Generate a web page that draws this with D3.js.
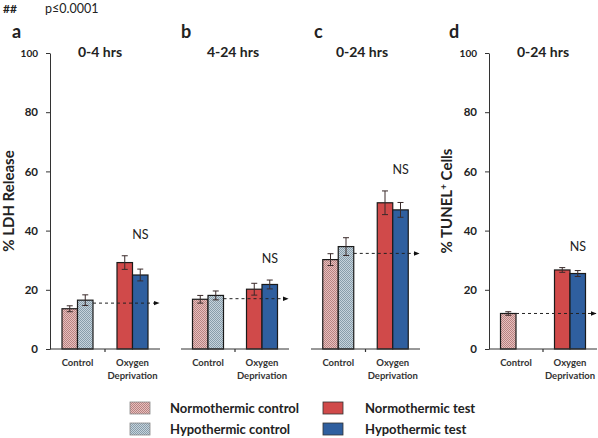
<!DOCTYPE html>
<html><head><meta charset="utf-8">
<script src="https://cdn.jsdelivr.net/npm/d3@7"></script>
<style>
html,body{margin:0;padding:0;background:#fff;}
text{font-family:Lato,"Open Sans",sans-serif;fill:#222;}
</style></head>
<body>
<svg id="chart" width="598" height="438"></svg>
<script>
// ---- data ----
const panelLetters = ["a", "b", "c", "d"];
const panelTitles = ["0-4 hrs", "4-24 hrs", "0-24 hrs", "0-24 hrs"];
const categories = ["Control", "Oxygen Deprivation"];
const yTicks = [0, 20, 40, 60, 80, 100];
const normControl = [13.6, 16.8, 30.2, 12.0];
const hypoControl = [16.5, 18.1, 34.6, null];
const normTest = [29.2, 20.2, 49.4, 26.7];
const hypoTest = [25.0, 21.8, 47.0, 25.5];
const normControlErr = [1.0, 1.3, 2.0, 0.6];
const hypoControlErr = [1.8, 1.5, 3.0, null];
const normTestErr = [2.3, 2.0, 4.0, 0.8];
const hypoTestErr = [2.0, 1.5, 2.5, 1.0];
const dashRef = [15.5, 17.0, 32.3, 12.0];
const sigLabel = ["NS", "NS", "NS", "NS"];
const yLabels = ["% LDH Release", null, null, "% TUNEL"];
const legendNames = ["Normothermic control", "Hypothermic control", "Normothermic test", "Hypothermic test"];

// ---- drawing ----
const svg = d3.select("#chart");
const defs = svg.append("defs");
function hatch(id, bg, fg) {
  const p = defs.append("pattern").attr("id", id).attr("patternUnits", "userSpaceOnUse")
    .attr("width", 2).attr("height", 2);
  p.append("rect").attr("width", 2).attr("height", 2).attr("fill", bg);
  p.append("rect").attr("x", 0).attr("y", 0).attr("width", 1).attr("height", 1).attr("fill", fg);
  p.append("rect").attr("x", 1).attr("y", 1).attr("width", 1).attr("height", 1).attr("fill", fg);
}
hatch("pinkHatch", "#e6c0bf", "#b98280");
hatch("blueHatch", "#c6d3dc", "#889daa");
defs.append("marker").attr("id", "arrow").attr("viewBox", "0 0 10 10").attr("refX", 9).attr("refY", 5)
  .attr("markerWidth", 6).attr("markerHeight", 6).attr("orient", "auto")
  .append("path").attr("d", "M0,1 L10,5 L0,9 Z").attr("fill", "#111");

const fills = ["url(#pinkHatch)", "url(#blueHatch)", "#d04a4a", "#2f5f9f"];
const series = [
  {vals: normControl, errs: normControlErr, fill: fills[0], cat: 0, sub: 0},
  {vals: hypoControl, errs: hypoControlErr, fill: fills[1], cat: 0, sub: 1},
  {vals: normTest, errs: normTestErr, fill: fills[2], cat: 1, sub: 0},
  {vals: hypoTest, errs: hypoTestErr, fill: fills[3], cat: 1, sub: 1}
];

const panelRanges = [[50, 160], [181, 289], [311, 420], [489, 597]];
const y = d3.scaleLinear().domain([0, 100]).range([349, 53]);

svg.append("text").attr("x", 3).attr("y", 13).style("font-size", "12px").style("font-weight", "bold").text("##");
svg.append("text").attr("x", 45).attr("y", 13).style("font-size", "12.5px").text("p≤0.0001");

const letterX = [12, 181, 314, 449];
const titleX = [100, 233, 362, 543];

panelLetters.forEach((L, i) => {
  const g = svg.append("g");
  const xr = panelRanges[i];
  const x0 = d3.scaleBand().domain(categories).range(xr).paddingInner(0).paddingOuter(0);
  const x1 = d3.scaleBand().domain([0, 1]).range([x0.bandwidth() / 2 - 15.5, x0.bandwidth() / 2 + 15.5]);

  g.append("text").attr("x", letterX[i]).attr("y", 38).style("font-size", "18px").style("font-weight", "bold").text(L);
  g.append("text").attr("x", titleX[i]).attr("y", 57).attr("text-anchor", "middle")
    .style("font-size", "14px").style("font-weight", "bold").text(panelTitles[i]);

  // bars
  series.forEach(s => {
    const v = s.vals[i];
    if (v == null) return;
    const bx = x0(categories[s.cat]) + x1(s.sub);
    const bw = x1.bandwidth();
    g.append("rect").attr("x", bx).attr("y", y(v)).attr("width", bw).attr("height", y(0) - y(v))
      .attr("fill", s.fill).attr("stroke", "#1a1a1a").attr("stroke-width", 1.2);
    const e = s.errs[i];
    const cx = bx + bw / 2;
    const eg = g.append("g").attr("stroke", "#3a2a2a").attr("stroke-width", 1);
    eg.append("line").attr("x1", cx).attr("x2", cx).attr("y1", y(v + e)).attr("y2", y(v - e));
    eg.append("line").attr("x1", cx - 3).attr("x2", cx + 3).attr("y1", y(v + e)).attr("y2", y(v + e));
    eg.append("line").attr("x1", cx - 3).attr("x2", cx + 3).attr("y1", y(v - e)).attr("y2", y(v - e));
  });

  // x axis
  g.append("line").attr("x1", xr[0]).attr("x2", xr[1]).attr("y1", y(0)).attr("y2", y(0))
    .attr("stroke", "#333").attr("stroke-width", 1);
  const mid = x0(categories[1]);
  g.append("line").attr("x1", mid).attr("x2", mid).attr("y1", y(0)).attr("y2", y(0) + 3)
    .attr("stroke", "#333").attr("stroke-width", 1.2);

  // category labels
  categories.forEach(c => {
    const cx = x0(c) + x0.bandwidth() / 2;
    const words = c === "Control" ? ["Control"] : ["Oxygen", "Deprivation"];
    words.forEach((w, k) => {
      g.append("text").attr("x", cx).attr("y", 366 + k * 12.5).attr("text-anchor", "middle")
        .style("font-size", "9.5px").style("font-weight", "bold").style("fill", "#333").text(w);
    });
  });

  // dashed reference line
  const lastCtrl = hypoControl[i] != null ? 1 : 0;
  const dx0 = x0(categories[0]) + x1(lastCtrl) + x1.bandwidth();
  g.append("line").attr("x1", dx0).attr("x2", xr[1] - 1).attr("y1", y(dashRef[i])).attr("y2", y(dashRef[i]))
    .attr("stroke", "#222").attr("stroke-width", 1).attr("stroke-dasharray", "3,3")
    .attr("marker-end", "url(#arrow)");

  // NS
  const nsx = x0(categories[1]) + x0.bandwidth() / 2 + 8;
  const top = Math.max(normTest[i] + normTestErr[i], hypoTest[i] + hypoTestErr[i]);
  g.append("text").attr("x", nsx).attr("y", y(top) - 17).attr("text-anchor", "middle")
    .style("font-size", "12.5px").text(sigLabel[i]);

  // y axis
  if (yLabels[i]) {
    const axis = d3.axisLeft(y).tickValues(yTicks).tickSize(4).tickSizeOuter(0);
    const ag = g.append("g").attr("transform", `translate(${xr[0]},0)`).call(axis);
    ag.select(".domain").attr("stroke", "#333");
    ag.selectAll(".tick line").attr("stroke", "#333");
    ag.selectAll(".tick text").attr("x", -12).style("font-size", "11.5px").style("font-weight", "bold")
      .style("font-family", "Lato, sans-serif").attr("fill", "#222");
    ag.selectAll(".tick text").filter(d => d === 100).style("font-size", "10px");
    const lx = i === 0 ? 14 : 452;
    const lt = g.append("text").attr("transform", `translate(${lx},201) rotate(-90)`).attr("text-anchor", "middle")
      .style("font-size", "15px").style("font-weight", "bold");
    if (i === 0) lt.text(yLabels[i]);
    else {
      lt.append("tspan").text(yLabels[i]);
      lt.append("tspan").attr("dy", -5).style("font-size", "10px").text("+");
      lt.append("tspan").attr("dy", 5).text(" Cells");
    }
  }
});

// legend
const legX = [130, 130, 323, 323];
const legY = [402, 423, 402, 423];
const textX = [170, 170, 365, 365];
legendNames.forEach((n, k) => {
  svg.append("rect").attr("x", legX[k]).attr("y", legY[k]).attr("width", 20).attr("height", 12)
    .attr("fill", fills[k]).attr("stroke", k < 2 ? "#888" : "#333").attr("stroke-width", 0.8);
  svg.append("text").attr("x", textX[k]).attr("y", legY[k] + 10.5)
    .style("font-size", "13px").style("font-weight", "bold").text(n);
});
</script>
</body></html>
